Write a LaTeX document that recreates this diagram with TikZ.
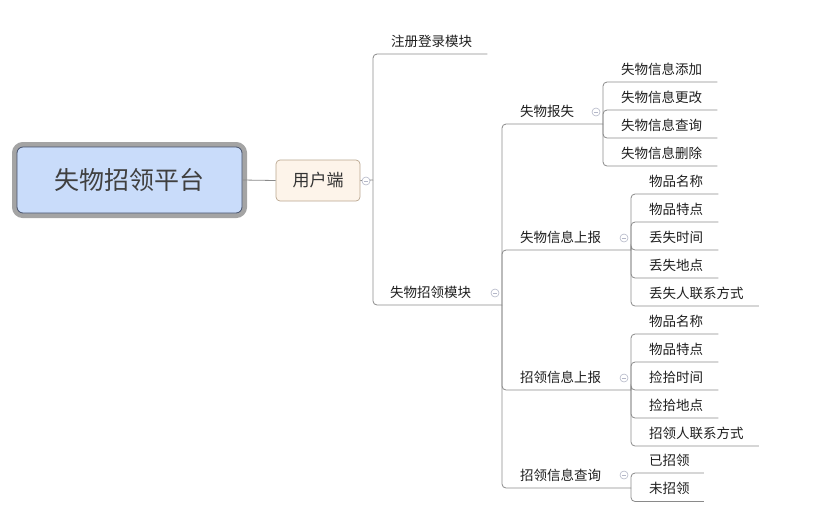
\documentclass[tikz,border=0pt]{standalone}
\usepackage{fontspec}
\setmainfont{Noto Sans CJK SC}
\usetikzlibrary{positioning}
\definecolor{rootblue}{HTML}{C9DCFA}
\definecolor{rootedge}{HTML}{45516B}
\definecolor{framegrey}{HTML}{A4A4A4}
\definecolor{clientfill}{HTML}{FDF4EA}
\definecolor{clientedge}{HTML}{B9A68F}
\definecolor{branchgrey}{HTML}{8A8A8A}
\definecolor{knobgrey}{HTML}{B4B7C8}
\definecolor{inktext}{HTML}{1E1E1E}
\tikzset{
  rootbox/.style={rectangle, rounded corners=6pt, draw=rootedge, fill=rootblue,
                  line width=0.8pt, minimum width=225pt, minimum height=66pt,
                  preaction={draw=framegrey, line width=10pt},
                  font=\fontsize{25}{26}\selectfont, text=black!75},
  clientbox/.style={rectangle, rounded corners=4pt, draw=clientedge, fill=clientfill,
                    line width=0.7pt, minimum width=84pt, minimum height=41pt,
                    font=\fontsize{17}{18}\selectfont, text=black!80},
  topic/.style={anchor=south west, inner xsep=0pt, inner ysep=7.5pt,
                text height=10pt, text depth=0pt,
                font=\fontsize{13.5}{14}\selectfont, text=inktext},
  branch/.style={draw=branchgrey, line width=0.8pt, rounded corners=4pt},
  knob/.style={circle, draw=knobgrey, fill=white, line width=0.6pt,
               minimum size=8pt, inner sep=0pt,
               path picture={\draw[knobgrey, line width=0.6pt]
                 ([xshift=-2.2pt]path picture bounding box.center) --
                 ([xshift=2.2pt]path picture bounding box.center);}},
}

\begin{document}
\begin{tikzpicture}[x=1pt, y=-1pt]
  \useasboundingbox (0,0) rectangle (834,515);

  % root and client
  \node[rootbox] (root) at (129.5,180) {失物招领平台};
  \node[clientbox] (client) at (318,180.5) {用户端};
  \draw[branch] (root.east) -- (client.west);
  \coordinate (j0) at (373,180);
  \draw[branch] (client.east) -- (j0);

  % level 2
  \node[topic] (reg) at (391,54) {注册登录模块};
  \draw[branch] (j0) |- ([xshift=15pt]reg.south east);
  \node[topic] (find) at (390,305) {失物招领模块};
  \coordinate (j1) at (502,305);
  \draw[branch] (j0) |- (j1);

  % level 3
  \node[topic] (lost) at (520,124) {失物报失};
  \coordinate (j2) at (603,124);
  \draw[branch] (j1) |- (j2);
  \node[topic] (lostrep) at (520,250) {失物信息上报};
  \coordinate (j3) at (631,250);
  \draw[branch] (j1) |- (j3);
  \node[topic] (foundrep) at (520,390) {招领信息上报};
  \coordinate (j4) at (631,390);
  \draw[branch] (j1) |- (j4);
  \node[topic] (query) at (520,488) {招领信息查询};
  \coordinate (j5) at (631,488);
  \draw[branch] (j1) |- (j5);

  % leaves
  \foreach \t [count=\i] in {失物信息添加,失物信息更改,失物信息查询,失物信息删除} {
    \node[topic] (a\i) at (621,{54+28*\i}) {\t};
    \draw[branch] (j2) |- ([xshift=15pt]a\i.south east);
  }
  \foreach \t [count=\i] in {物品名称,物品特点,丢失时间,丢失地点,丢失人联系方式} {
    \node[topic] (b\i) at (649,{166+28*\i}) {\t};
    \draw[branch] (j3) |- ([xshift=15pt]b\i.south east);
  }
  \foreach \t [count=\i] in {物品名称,物品特点,捡拾时间,捡拾地点,招领人联系方式} {
    \node[topic] (c\i) at (649,{306+28*\i}) {\t};
    \draw[branch] (j4) |- ([xshift=15pt]c\i.south east);
  }
  \foreach \t [count=\i] in {已招领,未招领} {
    \node[topic] (d\i) at (649,{444.5+28.5*\i}) {\t};
    \draw[branch] (j5) |- ([xshift=14pt]d\i.south east);
  }

  % collapse knobs
  \node[knob] (k0) at (366,181) {};
  \node[knob] (k1) at (495,293) {};
  \node[knob] (k2) at (596,112) {};
  \node[knob] (k3) at (624,238) {};
  \node[knob] (k4) at (624,378) {};
  \node[knob] (k5) at (624,475) {};
\end{tikzpicture}
\end{document}
